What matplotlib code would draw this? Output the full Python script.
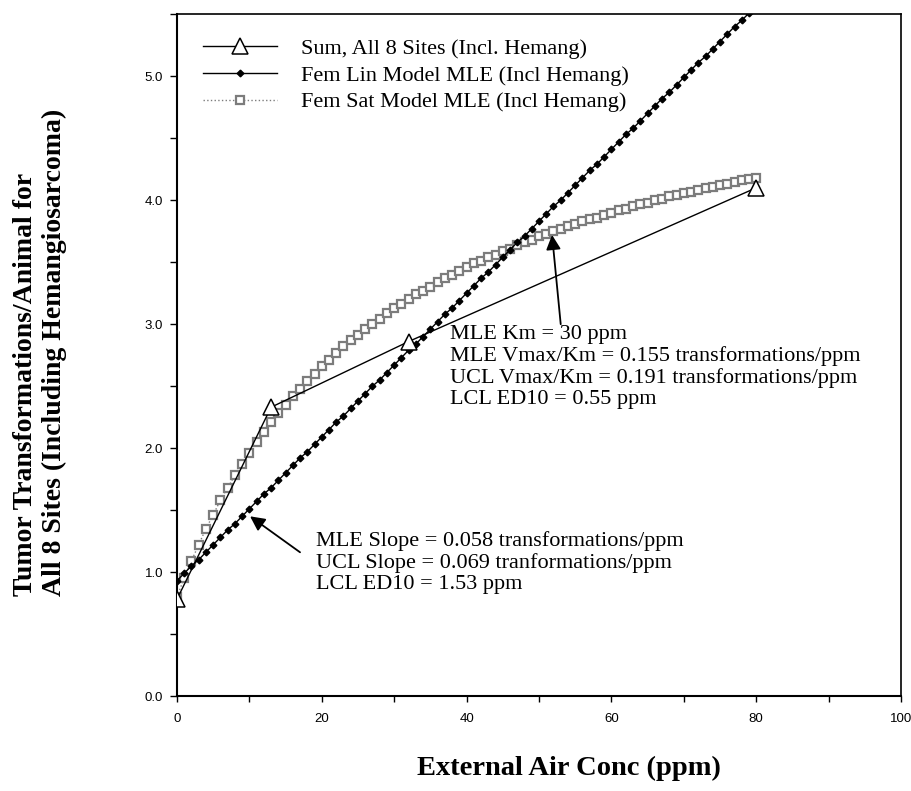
import matplotlib
matplotlib.use("Agg")
import matplotlib.pyplot as plt
from matplotlib.ticker import MultipleLocator, FormatStrFormatter

# observed totals, all 8 sites (incl. hemangiosarcoma)
sum_ppm = [0, 13, 32, 80]
sum_tumors = [0.78, 2.33, 2.86, 4.10]

# model curves evaluated at 1 ppm steps
model_ppm = list(range(0, 81))
lin_mle = [
    0.93, 0.99, 1.05, 1.10, 1.16, 1.22, 1.28, 1.34, 1.39, 1.45,
    1.51, 1.57, 1.63, 1.68, 1.74, 1.80, 1.86, 1.92, 1.97, 2.03,
    2.09, 2.15, 2.21, 2.26, 2.32, 2.38, 2.44, 2.50, 2.55, 2.61,
    2.67, 2.73, 2.79, 2.84, 2.90, 2.96, 3.02, 3.08, 3.13, 3.19,
    3.25, 3.31, 3.37, 3.42, 3.48, 3.54, 3.60, 3.66, 3.71, 3.77,
    3.83, 3.89, 3.95, 4.00, 4.06, 4.12, 4.18, 4.24, 4.29, 4.35,
    4.41, 4.47, 4.53, 4.58, 4.64, 4.70, 4.76, 4.82, 4.87, 4.93,
    4.99, 5.05, 5.11, 5.16, 5.22, 5.28, 5.34, 5.40, 5.45, 5.51,
    5.57,
]
sat_mle = [
    0.80, 0.95, 1.09, 1.22, 1.35, 1.46, 1.58, 1.68, 1.78, 1.87,
    1.96, 2.05, 2.13, 2.21, 2.28, 2.35, 2.42, 2.48, 2.54, 2.60,
    2.66, 2.71, 2.77, 2.82, 2.87, 2.91, 2.96, 3.00, 3.04, 3.09,
    3.13, 3.16, 3.20, 3.24, 3.27, 3.30, 3.34, 3.37, 3.40, 3.43,
    3.46, 3.49, 3.51, 3.54, 3.56, 3.59, 3.61, 3.64, 3.66, 3.68,
    3.71, 3.73, 3.75, 3.77, 3.79, 3.81, 3.83, 3.85, 3.86, 3.88,
    3.90, 3.92, 3.93, 3.95, 3.97, 3.98, 4.00, 4.01, 4.03, 4.04,
    4.06, 4.07, 4.08, 4.10, 4.11, 4.12, 4.13, 4.15, 4.16, 4.17,
    4.18,
]

series_labels = ['Sum, All 8 Sites (Incl. Hemang)',
                 'Fem Lin Model MLE (Incl Hemang)',
                 'Fem Sat Model MLE (Incl Hemang)']

sat_note = ('MLE Km = 30 ppm\n'
            'MLE Vmax/Km = 0.155 transformations/ppm\n'
            'UCL Vmax/Km = 0.191 transformations/ppm\n'
            'LCL ED10 = 0.55 ppm')
lin_note = ('MLE Slope = 0.058 transformations/ppm\n'
            'UCL Slope = 0.069 tranformations/ppm\n'
            'LCL ED10 = 1.53 ppm')

serif = 'Liberation Serif'
sans = 'Liberation Sans'

fig = plt.figure(figsize=(9.12, 7.91), dpi=100)
ax = fig.add_axes([0.194, 0.120, 0.794, 0.862])

sat_grey = '#7c7c7c'
ax.plot(model_ppm, sat_mle, linestyle=':', color=sat_grey, lw=1.0,
        marker='s', markersize=5.8, markerfacecolor='white',
        markeredgecolor=sat_grey, markeredgewidth=1.6,
        label=series_labels[2], zorder=3)
ax.plot(model_ppm, lin_mle, linestyle='-', color='black', lw=1.0,
        marker='D', markersize=3.4, markerfacecolor='black',
        markeredgecolor='black', label=series_labels[1], zorder=4)
ax.plot(sum_ppm, sum_tumors, linestyle='-', color='black', lw=1.0,
        marker='^', markersize=11, markerfacecolor='white',
        markeredgecolor='black', markeredgewidth=1.1,
        label=series_labels[0], zorder=5)

ax.set_xlim(0, 100)
ax.set_ylim(0, 5.5)
ax.xaxis.set_major_locator(MultipleLocator(20))
ax.xaxis.set_minor_locator(MultipleLocator(10))
ax.yaxis.set_major_locator(MultipleLocator(1.0))
ax.yaxis.set_minor_locator(MultipleLocator(0.5))
ax.yaxis.set_major_formatter(FormatStrFormatter('%.1f'))
ax.tick_params(axis='both', which='both', direction='out', width=1.0,
               labelsize=9.5)
ax.tick_params(axis='x', which='both', length=4, pad=8)
ax.tick_params(axis='y', which='both', length=5, pad=5)
for lbl in ax.get_xticklabels() + ax.get_yticklabels():
    lbl.set_fontfamily(sans)
for side in ['left', 'bottom']:
    ax.spines[side].set_linewidth(1.5)
for side in ['top', 'right']:
    ax.spines[side].set_linewidth(1.2)

# axis titles
ax.text(0.541, -0.106, 'External Air Conc (ppm)', transform=ax.transAxes,
        fontsize=20.5, fontweight='bold', fontfamily=serif,
        ha='center', va='center')
fig.text(40 / 912, 195 / 791,
         'Tumor Transformations/Animal for\n'
         'All 8 Sites (Including Hemangiosarcoma)',
         rotation=90, ha='center', va='bottom', multialignment='left',
         fontsize=20, fontweight='bold', fontfamily=serif, linespacing=1.22)

handles, labels = ax.get_legend_handles_labels()
order = [2, 1, 0]
ax.legend([handles[i] for i in order], [labels[i] for i in order],
          loc='upper left', bbox_to_anchor=(0.036, 0.9646), frameon=False,
          borderpad=0, borderaxespad=0, handlelength=3.35,
          handletextpad=1.05, labelspacing=0.28,
          prop={'family': serif, 'size': 16})

arrow = dict(arrowstyle='-|>', color='black', lw=1.3, mutation_scale=22,
             shrinkA=0, shrinkB=0)
ax.annotate('', xy=(51.8, 3.72), xytext=(53.0, 3.00), arrowprops=arrow)
ax.annotate('', xy=(10.1, 1.45), xytext=(17.0, 1.16), arrowprops=arrow)
ax.text(37.7, 2.99, sat_note, fontsize=16, fontfamily=serif,
        ha='left', va='top', linespacing=1.13)
ax.text(19.2, 1.33, lin_note, fontsize=16, fontfamily=serif,
        ha='left', va='top', linespacing=1.13)

fig.savefig('out.png', dpi=100)
